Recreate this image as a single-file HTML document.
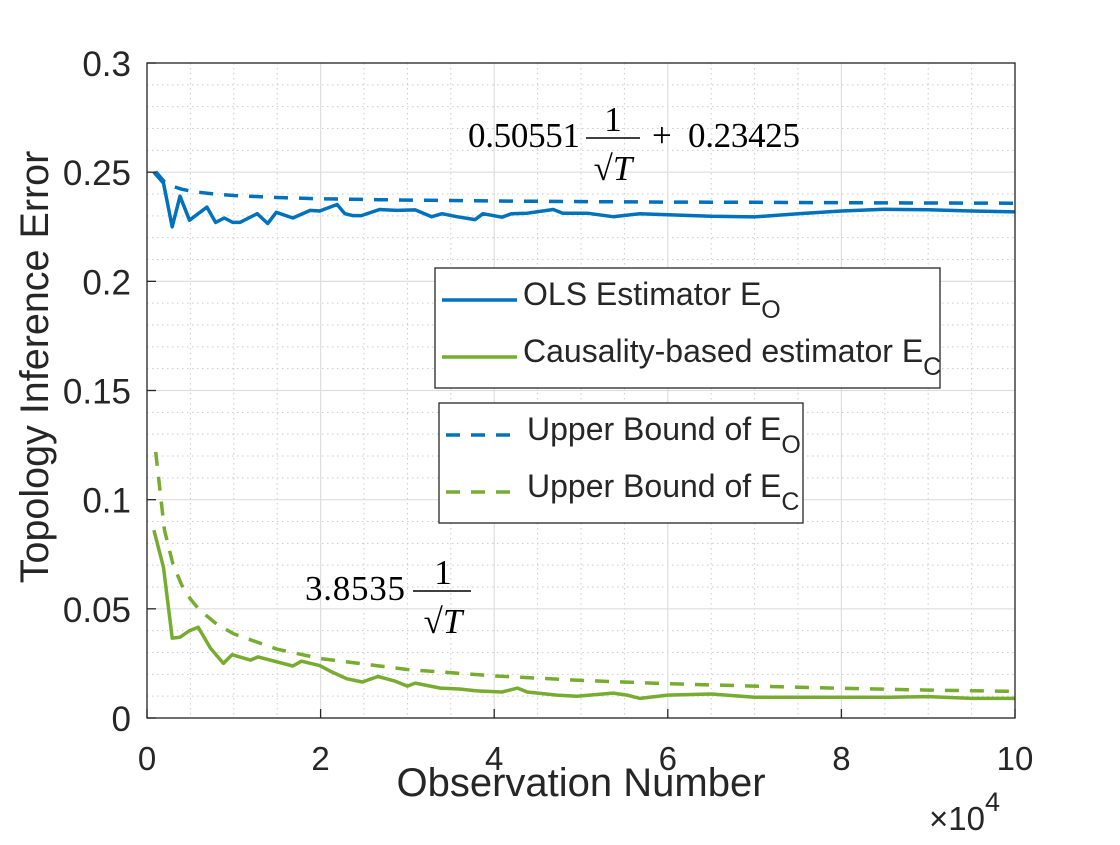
<!DOCTYPE html>
<html><head><meta charset="utf-8"><style>
body{margin:0;background:#fff}
svg text{font-family:"Liberation Sans",sans-serif;fill:#262626}
.m{font-family:"Liberation Serif",serif;fill:#000}
</style></head><body>
<svg id="c" width="1120" height="840" xmlns="http://www.w3.org/2000/svg">
<rect width="1120" height="840" fill="#fff"/>
<g id="grid"></g>
<g id="series"></g>
<rect x="147" y="63" width="868" height="655" fill="none" stroke="#262626" stroke-width="1.3"/>
<g id="ticks"></g>
<text x="581" y="796" font-size="40" text-anchor="middle">Observation Number</text>
<text x="929" y="830" font-size="33">×10<tspan font-size="27" dy="-19">4</tspan></text>
<text transform="translate(48,367) rotate(-90)" font-size="39.5" text-anchor="middle">Topology Inference Error</text>
<g>
<text class="m" x="468" y="147" font-size="35" textLength="112">0.50551</text>
<text class="m" x="613" y="131" font-size="35" text-anchor="middle">1</text>
<line x1="586" y1="138" x2="640" y2="138" stroke="#000" stroke-width="1.5"/>
<text class="m" x="613" y="180" font-size="35" text-anchor="middle">√<tspan font-style="italic">T</tspan></text>
<text class="m" x="652" y="147" font-size="35">+</text>
<text class="m" x="688" y="147" font-size="35" textLength="112">0.23425</text>
</g>
<g>
<text class="m" x="305" y="600" font-size="35" textLength="100">3.8535</text>
<text class="m" x="443" y="584" font-size="35" text-anchor="middle">1</text>
<line x1="413" y1="591" x2="471" y2="591" stroke="#000" stroke-width="1.5"/>
<text class="m" x="443" y="633" font-size="35" text-anchor="middle">√<tspan font-style="italic">T</tspan></text>
</g>
<g>
<rect x="435" y="268" width="505" height="120" fill="#fff" stroke="#262626" stroke-width="1.3"/>
<line x1="442" y1="300" x2="517" y2="300" stroke="#0072BD" stroke-width="3.5"/>
<text x="523" y="305" font-size="32" fill="#000">OLS Estimator E<tspan font-size="25" dy="13">O</tspan></text>
<line x1="442" y1="357" x2="517" y2="357" stroke="#77AC30" stroke-width="3.5"/>
<text x="523" y="362" font-size="32">Causality-based estimator E<tspan font-size="25" dy="13">C</tspan></text>
</g>
<g>
<rect x="439" y="403" width="364" height="120" fill="#fff" stroke="#262626" stroke-width="1.3"/>
<line x1="446" y1="435" x2="520" y2="435" stroke="#0072BD" stroke-width="3.5" stroke-dasharray="14,11"/>
<text x="527" y="440" font-size="32">Upper Bound of E<tspan font-size="25" dy="13">O</tspan></text>
<line x1="446" y1="492" x2="520" y2="492" stroke="#77AC30" stroke-width="3.5" stroke-dasharray="14,11"/>
<text x="527" y="497" font-size="32">Upper Bound of E<tspan font-size="25" dy="13">C</tspan></text>
</g>
</svg>
<script>
const xTicks=[0,2,4,6,8,10];
const yTicks=[0,0.05,0.1,0.15,0.2,0.25,0.3];
const yTickLabels=["0","0.05","0.1","0.15","0.2","0.25","0.3"];
const olsX=[0.08,0.19,0.29,0.38,0.49,0.69,0.79,0.89,0.99,1.07,1.27,1.39,1.49,1.68,1.88,1.99,2.19,2.28,2.37,2.47,2.68,2.88,3.09,3.28,3.4,3.57,3.78,3.87,4.09,4.2,4.38,4.68,4.79,5.07,5.37,5.68,6,6.5,7,7.5,8,8.5,9,9.5,10];
const olsY=[0.25,0.245,0.225,0.239,0.228,0.234,0.227,0.229,0.227,0.227,0.231,0.2265,0.2316,0.229,0.2325,0.2322,0.2352,0.231,0.2301,0.2301,0.2329,0.2325,0.2327,0.2296,0.231,0.2296,0.2283,0.231,0.2294,0.231,0.2312,0.2329,0.2312,0.2312,0.2296,0.231,0.2305,0.2298,0.2295,0.231,0.2322,0.233,0.2328,0.2322,0.2318];
const csX=[0.08,0.19,0.29,0.38,0.49,0.59,0.73,0.88,0.98,1.19,1.28,1.68,1.78,1.99,2.11,2.3,2.48,2.66,2.85,3.0,3.09,3.38,3.6,3.8,4.09,4.27,4.38,4.72,4.95,5.37,5.53,5.68,6,6.5,7,7.5,8,8.5,9,9.5,10];
const csY=[0.086,0.069,0.0366,0.037,0.04,0.0416,0.032,0.025,0.029,0.0265,0.028,0.0238,0.026,0.024,0.0215,0.018,0.0165,0.019,0.017,0.0146,0.016,0.0137,0.0133,0.0124,0.0119,0.0137,0.0119,0.0105,0.01,0.0114,0.0105,0.009,0.0105,0.011,0.0095,0.0095,0.0095,0.0095,0.0098,0.009,0.009];
const bX=[0.1,0.2,0.3,0.4,0.5,0.6,0.8,1,1.5,2,3,4,5,6,7,8,9,10];
const olsB=[0.2502,0.2456,0.2435,0.2422,0.2414,0.2408,0.2399,0.2393,0.2384,0.2378,0.2372,0.2368,0.2365,0.2363,0.2362,0.2360,0.2359,0.2358];
const csB=[0.1219,0.0862,0.0704,0.0609,0.0545,0.0497,0.0431,0.0385,0.0315,0.0272,0.0222,0.0193,0.0172,0.0157,0.0146,0.0136,0.0128,0.0122];
const sx=v=>147+v*86.8, sy=v=>718-v*2183.3;
const NS="http://www.w3.org/2000/svg";
function mk(tag,attrs,parent){const e=document.createElementNS(NS,tag);for(const k in attrs)e.setAttribute(k,attrs[k]);parent.appendChild(e);return e;}
const g=document.getElementById('grid');
for(let v=0.5;v<10;v+=0.5){if(Math.abs(v-Math.round(v/2)*2)<1e-6)continue;const l=mk('line',{x1:sx(v),x2:sx(v),y1:63,y2:718,stroke:'#ccc','stroke-width':1,'stroke-dasharray':'1.5,3.5'},g);

}
for(let i=1;i<30;i++){if(i%5===0)continue;const v=i*0.01;const l=mk('line',{x1:147,x2:1015,y1:sy(v),y2:sy(v),stroke:'#ccc','stroke-width':1,'stroke-dasharray':'1.5,3.5'},g);

}
xTicks.forEach(v=>{const l=mk('line',{x1:sx(v),x2:sx(v),y1:63,y2:718,stroke:'#dedede','stroke-width':1.2},g);

});
yTicks.forEach(v=>{const l=mk('line',{x1:147,x2:1015,y1:sy(v),y2:sy(v),stroke:'#dedede','stroke-width':1.2},g);

});
const t=document.getElementById('ticks');
xTicks.forEach(v=>{mk('line',{x1:sx(v),x2:sx(v),y1:718,y2:709,stroke:'#262626','stroke-width':1.3},t);
const tx=mk('text',{x:sx(v),y:770,'font-size':33,'text-anchor':'middle'},t);tx.textContent=String(v);

});
yTicks.forEach((v,i)=>{mk('line',{x1:147,x2:156,y1:sy(v),y2:sy(v),stroke:'#262626','stroke-width':1.3},t);
const tx=mk('text',{x:131,y:sy(v)+13,'font-size':35,'text-anchor':'end'},t);tx.textContent=yTickLabels[i];

});
const s=document.getElementById('series');
function line(xs,ys,color,dash,name){const d=xs.map((x,i)=>(i?'L':'M')+sx(x).toFixed(1)+','+sy(ys[i]).toFixed(1)).join('');
const p=mk('path',{d:d,fill:'none',stroke:color,'stroke-width':3.5,'stroke-linejoin':'round'},s);if(dash)p.setAttribute('stroke-dasharray','14,11');

}
line(bX,olsB,'#0072BD',true,'ols-upper-bound-line');
line(bX,csB,'#77AC30',true,'causality-upper-bound-line');
line(olsX,olsY,'#0072BD',false,'ols-estimator-line');
line(csX,csY,'#77AC30',false,'causality-estimator-line');
</script>
</body></html>
